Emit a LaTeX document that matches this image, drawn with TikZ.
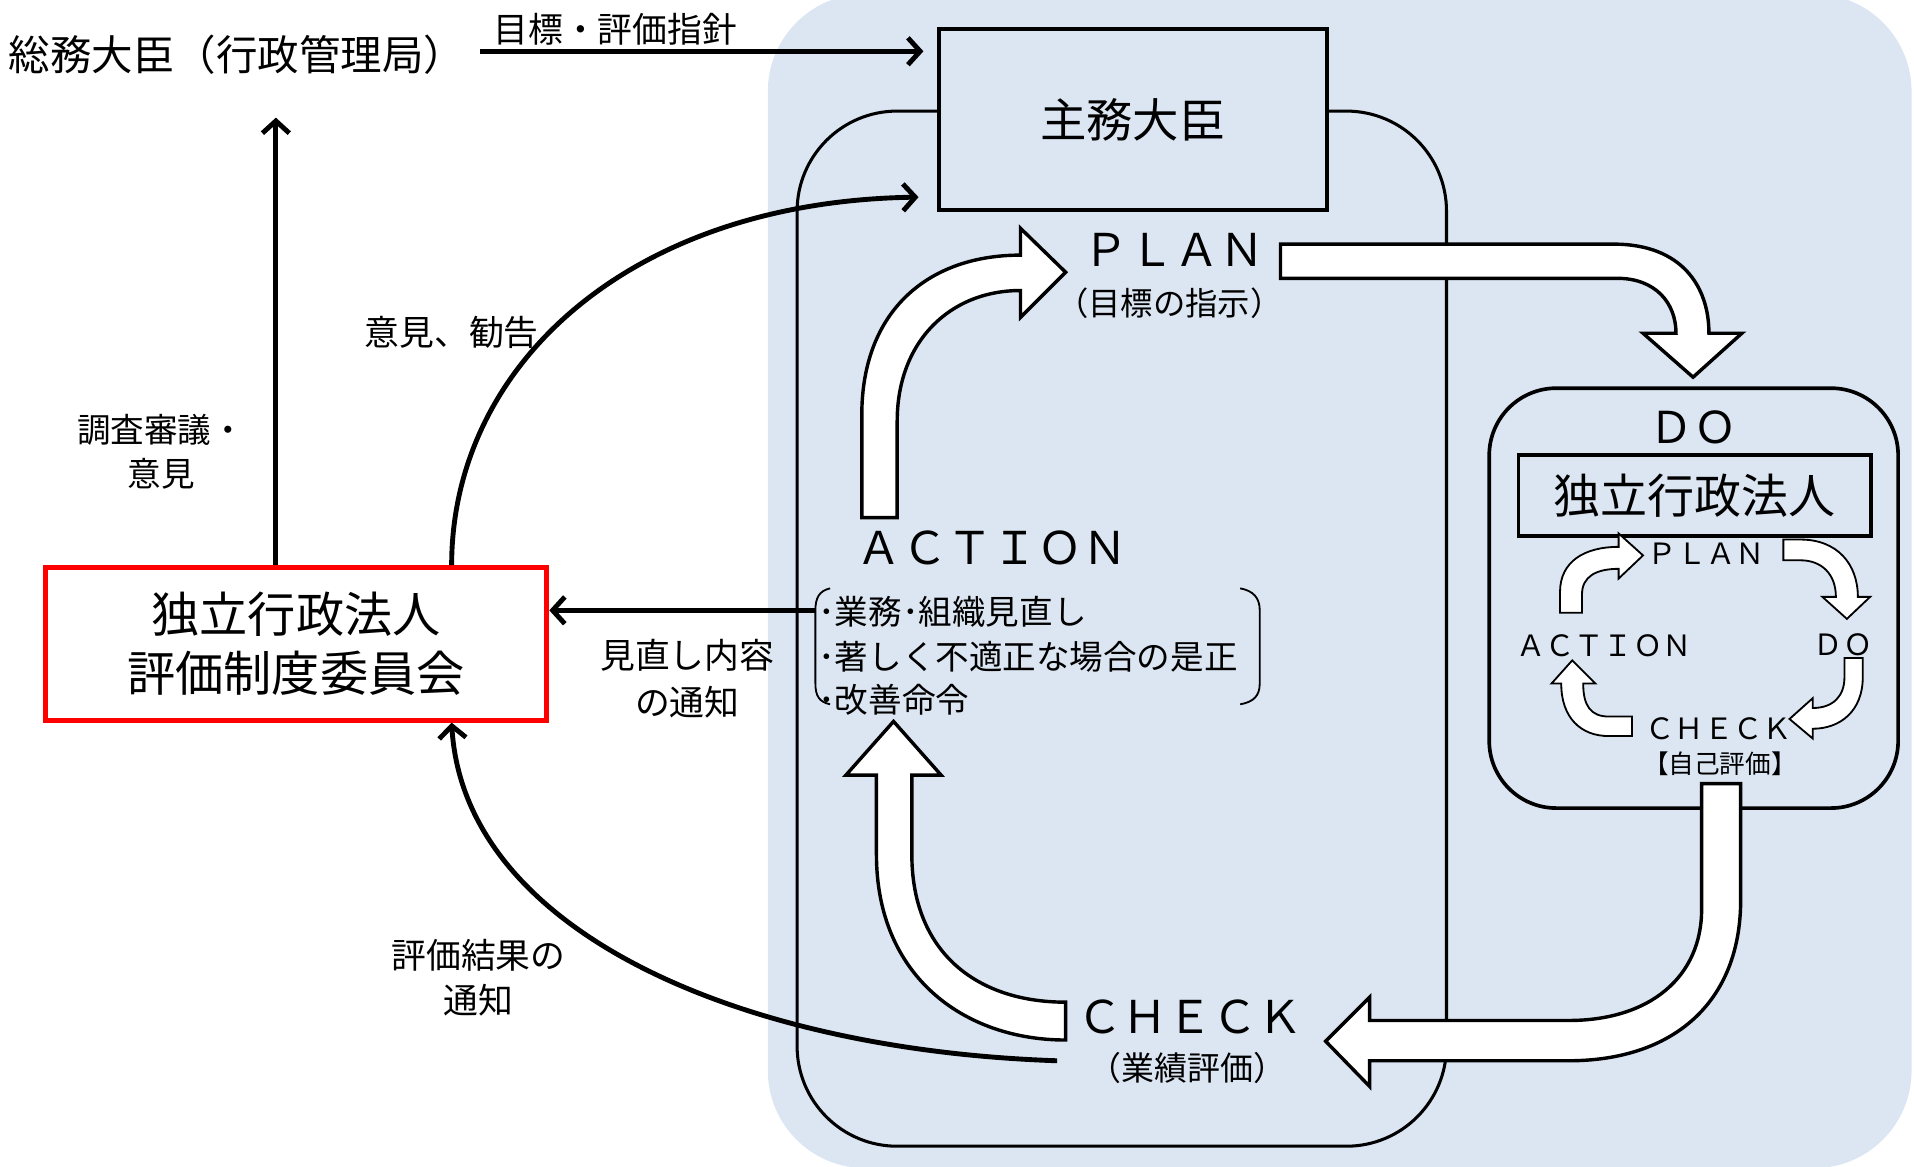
\documentclass[tikz,border=0pt]{standalone}
\usepackage{fontspec}
\newfontfamily\jp{Noto Sans CJK JP}
\usetikzlibrary{arrows.meta,calc}
\definecolor{bgblue}{HTML}{DCE6F2}
\begin{document}
\begin{tikzpicture}[x=1pt,y=-1pt,
  ft/.style n args={2}{font=\jp\fontsize{#1}{#2}\selectfont, inner sep=0pt},
  arr/.style={line width=4pt, -{Straight Barb[length=10pt,width=22pt]}},
  wa/.style={draw=black, fill=white, line width=2.8pt, line join=miter},
  swa/.style={draw=black, fill=white, line width=1.5pt, line join=miter},
  brk/.style={line width=1.5pt},
]
\useasboundingbox (0,0) rectangle (1568,956);
% background panel
\fill[bgblue, rounded corners=80pt] (629,-5) rectangle (1566,957);
% main loop
\draw[line width=2.5pt, rounded corners=82pt] (653,91) rectangle (1185,939);
% boxes
\node[draw, line width=3pt, fill=bgblue, minimum width=318pt, minimum height=148pt, ft={38}{46}] (shumu) at (928,98) {主務大臣};
\node[draw, line width=3pt, rounded corners=55pt, minimum width=335pt, minimum height=344pt] (dobox) at (1387.5,490) {};
\node[draw, line width=3pt, minimum width=289pt, minimum height=66pt, ft={38.5}{46}] (hojin) at (1388.5,406) {独立行政法人};
\node[draw=red, line width=4pt, fill=white, minimum width=411pt, minimum height=125pt, align=center, ft={39.5}{48}] (iinkai) at (242.5,527.5) {独立行政法人\\評価制度委員会};

% big white arrows
\draw[wa] (1049,200) -- (1322,200) .. controls (1378,200) and (1400,235) .. (1400,273) -- (1427,273) -- (1387,309) -- (1346,273) -- (1373,273) .. controls (1373,248) and (1356,228) .. (1325,228) -- (1049,228) -- cycle;
\draw[wa] (706,424) -- (706,340) .. controls (706,255) and (760,209) .. (836,209) -- (836,187) -- (873,223) -- (836,260) -- (836,238) .. controls (778,238) and (735,280) .. (735,345) -- (735,424) -- cycle;
\draw[wa] (873,852) -- (873,821) .. controls (800,821) and (747,780) .. (747,700) -- (747,635) -- (771,635) -- (732,591) -- (693,635) -- (718,635) -- (718,700) .. controls (718,800) and (790,852) .. (873,852) -- cycle;
\draw[wa] (1394,642) -- (1426,642) -- (1426,737) .. controls (1426,822) and (1370,869) .. (1285,869) -- (1122,869) -- (1122,890) -- (1086,853) -- (1122,817) -- (1122,836) -- (1285,836) .. controls (1352,836) and (1394,800) .. (1394,745) -- cycle;

% small white arrows
\draw[swa] (1278,502) -- (1278,485) .. controls (1278,460) and (1298,448) .. (1326,448) -- (1326,437) -- (1346,455) -- (1326,474) -- (1326,466) .. controls (1308,466) and (1296,472) .. (1296,487) -- (1296,502) -- cycle;
\draw[swa] (1461,442) -- (1475,442) .. controls (1505,442) and (1522,462) .. (1522,489) -- (1532,489) -- (1513,507) -- (1493,489) -- (1504,489) .. controls (1504,470) and (1492,459) .. (1475,459) -- (1461,459) -- cycle;
\draw[swa] (1511,539) -- (1526,539) -- (1526,555) .. controls (1526,582) and (1508,597) .. (1485,597) -- (1485,605) -- (1466,589) -- (1485,572) -- (1485,580) .. controls (1502,580) and (1511,570) .. (1511,555) -- cycle;
\draw[swa] (1337,587) -- (1318,587) .. controls (1303,587) and (1297,578) .. (1297,560) -- (1307,560) -- (1288,541) -- (1271,560) -- (1279,560) .. controls (1279,588) and (1295,603) .. (1318,603) -- (1337,603) -- cycle;

% texts
\node[ft={34}{40}] (somu) at (194,45) {総務大臣（行政管理局）};
\node[ft={28.5}{34}] (mokuhyo) at (504,24) {目標・評価指針};
\node[ft={37}{44}] (plan) at (962,205) {ＰＬＡＮ};
\node[ft={26.5}{30}] (plansub) at (958,248) {（目標の指示）};
\node[ft={37}{44}] (action) at (813,449) {ＡＣＴＩＯＮ};
\node[ft={37}{44}] (check) at (975,833) {ＣＨＥＣＫ};
\node[ft={27}{30}] (checksub) at (973,875) {（業績評価）};
\node[ft={36}{44}] (do) at (1387,350) {ＤＯ};
\node[ft={24}{28}] (splan) at (1398,454) {ＰＬＡＮ};
\node[ft={24}{28}] (saction) at (1314,529) {ＡＣＴＩＯＮ};
\node[ft={24}{28}] (sdo) at (1510,528) {ＤＯ};
\node[ft={24}{28}] (scheck) at (1408,597) {ＣＨＥＣＫ};
\node[ft={21}{26}] (sjiko) at (1409,626) {【自己評価】};
\node[ft={27.5}{36}, align=center] (chosa) at (132,370) {調査審議・\\意見};
\node[ft={28.5}{34}] (iken) at (370,272) {意見、勧告};
\node[ft={28.5}{38}, align=center] (minaoshi) at (563,556) {見直し内容\\の通知};
\node[ft={28.5}{37}, align=center] (kekka) at (392,801) {評価結果の\\通知};
\node[ft={27.5}{36}, anchor=west] (l1) at (670,501) {･業務･組織見直し};
\node[ft={27.5}{36}, anchor=west] (l2) at (670,538) {･著しく不適正な場合の是正};
\node[ft={27.5}{36}, anchor=west] (l3) at (670,573) {･改善命令};

% brackets
\draw[brk] (680,482) .. controls (671,484) and (668,490) .. (668,500) -- (668,560) .. controls (668,570) and (671,575) .. (680,577);
\draw[brk] (1016,482) .. controls (1027,484) and (1032,490) .. (1032,500) -- (1032,560) .. controls (1032,570) and (1027,575) .. (1016,577);

% connectors
\coordinate (vx) at (226,0);
\coordinate (brkl) at (668,500);
\coordinate (c1) at (866,869);
\draw[arr] ($(somu.east)+(12,-3)$) -- ($(shumu.west |- somu.east)+(-11,-3)$);
\draw[arr] (vx |- iinkai.north) -- ($(vx |- somu.south)+(0,35)$);
\draw[arr] ($(iinkai.north)+(127.5,0)$) .. controls (370,300) and (515,165) .. ($(shumu.south west)+(-15,-12)$);
\draw[arr] (brkl) -- (brkl -| iinkai.east);
\draw[arr] (c1) .. controls (600,860) and (380,760) .. ($(iinkai.south)+(127.5,0)$);
\end{tikzpicture}
\end{document}
